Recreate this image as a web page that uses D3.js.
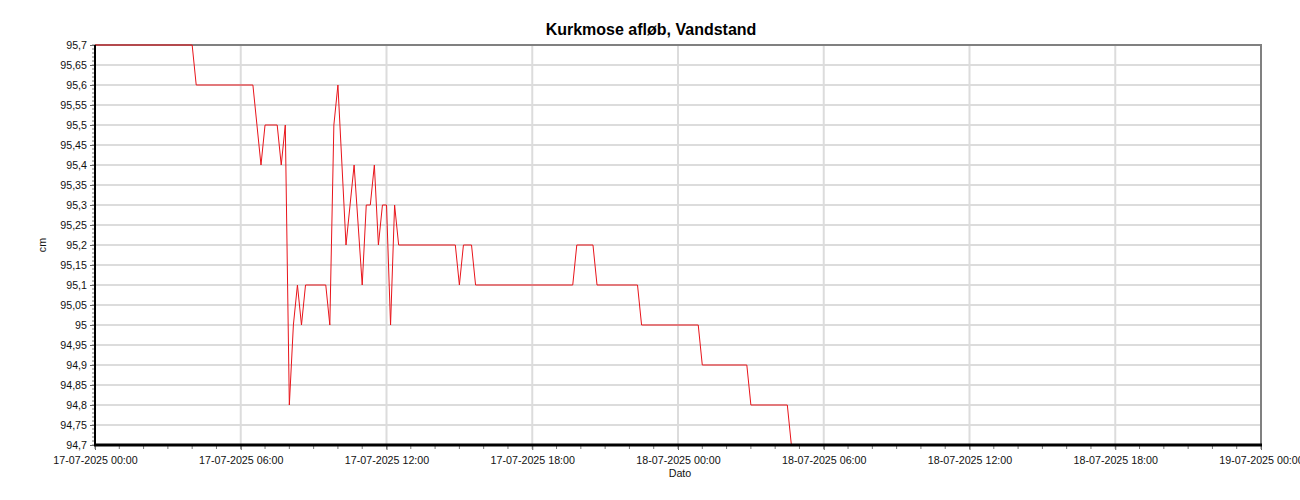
<!DOCTYPE html>
<html><head><meta charset="utf-8">
<script src="https://cdn.jsdelivr.net/npm/d3@7"></script>
<style>body{margin:0;background:#fff;} svg{display:block;font-family:"Liberation Sans",Arial,sans-serif;}</style>
</head><body>
<svg id="chart" width="1300" height="500"></svg>
<script>
const title = "Kurkmose afløb, Vandstand";
const yLabel = "cm";
const xLabel = "Dato";
const times = [
 "2025-07-17 00:00","2025-07-17 04:00","2025-07-17 04:10","2025-07-17 06:30","2025-07-17 06:50",
 "2025-07-17 07:00","2025-07-17 07:30","2025-07-17 07:40","2025-07-17 07:50","2025-07-17 08:00",
 "2025-07-17 08:10","2025-07-17 08:20","2025-07-17 08:30","2025-07-17 08:40","2025-07-17 09:30",
 "2025-07-17 09:40","2025-07-17 09:50","2025-07-17 10:00","2025-07-17 10:20","2025-07-17 10:40",
 "2025-07-17 11:00","2025-07-17 11:10","2025-07-17 11:20","2025-07-17 11:30","2025-07-17 11:40",
 "2025-07-17 11:50","2025-07-17 12:00","2025-07-17 12:10","2025-07-17 12:20","2025-07-17 12:30",
 "2025-07-17 14:50","2025-07-17 15:00","2025-07-17 15:10","2025-07-17 15:30","2025-07-17 15:40",
 "2025-07-17 19:40","2025-07-17 19:50","2025-07-17 20:30","2025-07-17 20:40","2025-07-17 22:20",
 "2025-07-17 22:30","2025-07-18 00:50","2025-07-18 01:00","2025-07-18 02:50","2025-07-18 03:00",
 "2025-07-18 04:30","2025-07-18 04:40","2025-07-18 05:00"
];
const values = [
 95.7,95.7,95.6,95.6,95.4,
 95.5,95.5,95.4,95.5,94.8,
 95.0,95.1,95.0,95.1,95.1,
 95.0,95.5,95.6,95.2,95.4,
 95.1,95.3,95.3,95.4,95.2,
 95.3,95.3,95.0,95.3,95.2,
 95.2,95.1,95.2,95.2,95.1,
 95.1,95.2,95.2,95.1,95.1,
 95.0,95.0,94.9,94.9,94.8,
 94.8,94.7,94.7
];
const xDomain = ["2025-07-17 00:00","2025-07-19 00:00"];
const yDomain = [94.7, 95.7];

const parse = d3.timeParse("%Y-%m-%d %H:%M");
const data = times.map((t,i)=>({t:parse(t), v:values[i]}));
const svg = d3.select("#chart");
const L=95, R=1261, T=45, B=445;
const x = d3.scaleTime().domain(xDomain.map(parse)).range([L,R]);
const y = d3.scaleLinear().domain(yDomain).range([B,T]);

const majorX = d3.timeHour.every(6).range(x.domain()[0], d3.timeMinute.offset(x.domain()[1],1));
const minorX = d3.timeMinute.every(90).range(x.domain()[0], d3.timeMinute.offset(x.domain()[1],1));
const majorY = d3.range(0,21).map(i=>+(94.7+i*0.05).toFixed(2));
const minorY = d3.range(0,101).map(i=>+(94.7+i*0.01).toFixed(2));

// grid
svg.append("g").selectAll("line").data(majorY).join("line")
 .attr("x1",L).attr("x2",R).attr("y1",d=>y(d)).attr("y2",d=>y(d))
 .attr("stroke","#dcdcdc").attr("stroke-width",2);
svg.append("g").selectAll("line").data(majorX).join("line")
 .attr("y1",T).attr("y2",B).attr("x1",d=>x(d)).attr("x2",d=>x(d))
 .attr("stroke","#dcdcdc").attr("stroke-width",2);

// border top/right
svg.append("line").attr("x1",L).attr("x2",R+1).attr("y1",T).attr("y2",T).attr("stroke","#808080").attr("stroke-width",2);
svg.append("line").attr("x1",R).attr("x2",R).attr("y1",T).attr("y2",B).attr("stroke","#808080").attr("stroke-width",2);

// line
svg.append("path").datum(data)
 .attr("fill","none").attr("stroke","#e8141a").attr("stroke-width",1)
 .attr("d", d3.line().x(d=>x(d.t)).y(d=>y(d.v)));

// y axis
const yFmt = d=> String(+d.toFixed(2)).replace(".",",");
const yAxis = svg.append("g").attr("transform",`translate(${L},0)`)
 .call(d3.axisLeft(y).tickValues(majorY).tickFormat(yFmt).tickSize(5).tickPadding(3));
yAxis.select(".domain").remove();
yAxis.selectAll(".tick line").attr("stroke","#666");
yAxis.selectAll("text").attr("font-size","10.7px").attr("fill","#111").attr("font-family","Liberation Sans, Arial, sans-serif");
svg.append("g").selectAll("line").data(minorY).join("line")
 .attr("x1",L-3).attr("x2",L).attr("y1",d=>y(d)).attr("y2",d=>y(d)).attr("stroke","#777").attr("stroke-width",1);

// x axis
const xAxis = svg.append("g").attr("transform",`translate(0,${B})`)
 .call(d3.axisBottom(x).tickValues(majorX).tickFormat(d3.timeFormat("%d-%m-%Y %H:%M")).tickSize(5).tickPadding(6));
xAxis.select(".domain").remove();
xAxis.selectAll(".tick line").attr("stroke","#666");
xAxis.selectAll("text").attr("font-size","10.7px").attr("fill","#111").attr("font-family","Liberation Sans, Arial, sans-serif");
svg.append("g").selectAll("line").data(minorX).join("line")
 .attr("x1",d=>x(d)).attr("x2",d=>x(d)).attr("y1",B).attr("y2",B+4).attr("stroke","#777").attr("stroke-width",1);

// axis lines
svg.append("line").attr("x1",L).attr("x2",L).attr("y1",T).attr("y2",B+1).attr("stroke","#000").attr("stroke-width",2);
svg.append("line").attr("x1",L-1).attr("x2",R+1).attr("y1",B).attr("y2",B).attr("stroke","#000").attr("stroke-width",3);

// titles
svg.append("text").attr("x",651).attr("y",35).attr("text-anchor","middle")
 .attr("font-size","16px").attr("font-weight","bold").attr("fill","#000").text(title);
svg.append("text").attr("transform",`translate(46,${(T+B)/2}) rotate(-90)`).attr("text-anchor","middle")
 .attr("font-size","10.7px").attr("fill","#111").text(yLabel);
svg.append("text").attr("x",680).attr("y",477).attr("text-anchor","middle")
 .attr("font-size","10.7px").attr("fill","#111").text(xLabel);
</script>
</body></html>
